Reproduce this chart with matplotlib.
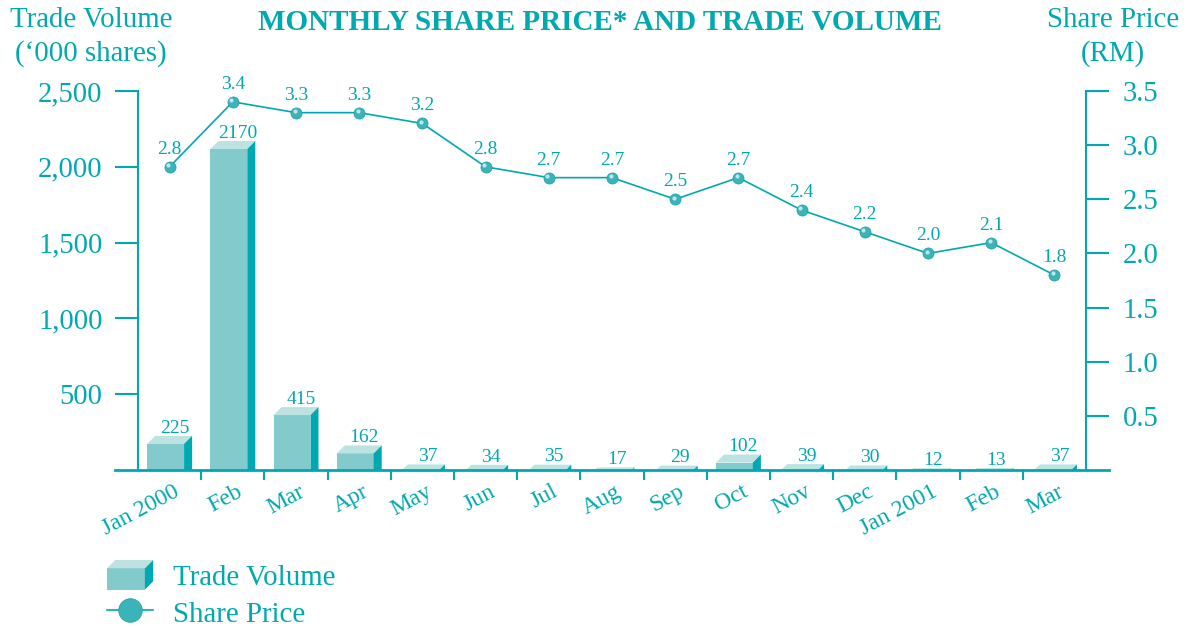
import matplotlib
matplotlib.use("Agg")
import matplotlib.pyplot as plt
import numpy as np
from matplotlib.patches import Polygon, Rectangle
from matplotlib.lines import Line2D
from matplotlib.legend_handler import HandlerBase
from matplotlib.transforms import ScaledTranslation, offset_copy

months = ["Jan 2000", "Feb", "Mar", "Apr", "May", "Jun", "Jul", "Aug",
          "Sep", "Oct", "Nov", "Dec", "Jan 2001", "Feb", "Mar"]
volume = [225, 2170, 415, 162, 37, 34, 35, 17, 29, 102, 39, 30, 12, 13, 37]
price = [2.8, 3.4, 3.3, 3.3, 3.2, 2.8, 2.7, 2.7, 2.5, 2.7, 2.4, 2.2, 2.0, 2.1, 1.8]
vol_ticks = [500, 1000, 1500, 2000, 2500]
price_ticks = [0.5, 1.0, 1.5, 2.0, 2.5, 3.0, 3.5]

TEAL = "#00a8af"
FRONT = "#82cacc"
SIDE = "#00a9b1"
TOP = "#bce2e2"
BALL = "#3ab3b9"

plt.rcParams["font.family"] = ["Liberation Serif", "DejaVu Serif"]

W, H = 1198, 627
fig = plt.figure(figsize=(W / 100, H / 100), dpi=100)
ax = fig.add_axes((138 / W, 1 - 470 / H, 948 / W, 379 / H))
ax2 = ax.twinx()

x = np.arange(len(months))
w = 0.585    # front face width
dx = 0.127   # depth, x direction
dy = 53      # depth, in volume units

# 3D-ish bars: the value is the back edge of the top face
left = x - (w + dx) / 2
front_h = np.array(volume) - dy
ax.bar(left, np.clip(front_h, 0, None), width=w, align="edge", color=FRONT,
       lw=0, zorder=2)
for l, v, f in zip(left, volume, front_h):
    r = l + w
    ax.add_patch(Polygon([(l, f), (r, f), (r + dx, v), (l + dx, v)],
                         closed=True, fc=TOP, lw=0, zorder=2))
    ax.add_patch(Polygon([(r, 0), (r, f), (r + dx, v), (r + dx, 0)],
                         closed=True, fc=SIDE, lw=0, zorder=2))
    ax.text(l + (w + dx) / 2 + 0.08, v - 5, f"{v}", ha="center", va="bottom",
            color=TEAL, fontsize=14)

ax.set_xlim(-0.5, len(months) - 0.5)
ax.set_ylim(0, 2500)
ax2.set_ylim(0, 3.5)

# price line with "spheres"
ax2.plot(x, price, color=TEAL, lw=1.2, marker="o", ms=8, mfc=BALL,
         mec="#1c9ea5", mew=0.5, zorder=3)
hl = offset_copy(ax2.transData, fig=fig, x=-1.0, y=1.2, units="points")
ax2.plot(x, price, ls="none", marker="o", ms=3, mfc="#dff3f4", mec="none",
         alpha=0.8, transform=hl, zorder=4)
for i, p in zip(x, price):
    ax2.annotate(f"{p:.1f}", (i, p), xytext=(0, 6.5), textcoords="offset points",
                 ha="center", va="bottom", fontsize=14, color=TEAL)

# spines
for s in ["top", "right", "bottom"]:
    ax.spines[s].set_visible(False)
for s in ["top", "left", "bottom"]:
    ax2.spines[s].set_visible(False)
ax.spines["left"].set_color(TEAL)
ax.spines["left"].set_linewidth(1.5)
ax2.spines["right"].set_color(TEAL)
ax2.spines["right"].set_linewidth(1.5)
ax.plot([-0.0243, 1.0243], [0, 0], transform=ax.transAxes, clip_on=False,
        color=TEAL, lw=2, zorder=5)

ax.set_yticks(vol_ticks, [f"{v:,}" for v in vol_ticks])
ax.tick_params(axis="y", length=16.5, width=1.5, color=TEAL, labelcolor=TEAL,
               labelsize=20.6, pad=9)
ax2.set_yticks(price_ticks, [f"{v:.1f}" for v in price_ticks])
ax2.tick_params(axis="y", length=16.5, width=1.5, color=TEAL, labelcolor=TEAL,
                labelsize=20.6, pad=10)

ax.set_xticks(x, months, rotation=28, ha="right", rotation_mode="anchor")
ax.set_xticks(x[:-1] + 0.5, minor=True)
ax.tick_params(axis="x", which="major", length=0, labelcolor=TEAL,
               labelsize=17, pad=8)
ax.tick_params(axis="x", which="minor", length=7, width=1.5, color=TEAL)
shift = ScaledTranslation(3 / 100, 0, fig.dpi_scale_trans)
for lbl in ax.get_xticklabels():
    lbl.set_transform(lbl.get_transform() + shift)

# titles
fig.text(600 / W, 1 - 23 / H, "MONTHLY SHARE PRICE* AND TRADE VOLUME",
         ha="center", va="center", fontsize=21, fontweight="bold", color=TEAL)
fig.text(91 / W, 1 - 37 / H, "Trade Volume\n(\u2018000 shares)", ha="center",
         va="center", multialignment="center", fontsize=20.8, color=TEAL,
         linespacing=1.3)
fig.text(1113 / W, 1 - 37 / H, "Share Price\n(RM)", ha="center", va="center",
         multialignment="center", fontsize=20.8, color=TEAL, linespacing=1.3)


# legend with a small 3D box handle
class Box3D:
    pass


class Box3DHandler(HandlerBase):
    def create_artists(self, legend, orig_handle, xdescent, ydescent, width,
                       height, fontsize, trans):
        d = 0.18 * width
        x0, y0 = -xdescent, -ydescent
        fw, fh = width - d, height - d
        front = Rectangle((x0, y0), fw, fh, fc=FRONT, lw=0, transform=trans)
        top = Polygon([(x0, y0 + fh), (x0 + fw, y0 + fh), (x0 + width, y0 + height),
                       (x0 + d, y0 + height)], closed=True, fc=TOP, lw=0,
                      transform=trans)
        side = Polygon([(x0 + fw, y0), (x0 + fw, y0 + fh), (x0 + width, y0 + height),
                        (x0 + width, y0 + d)], closed=True, fc=SIDE, lw=0,
                       transform=trans)
        return [front, top, side]


price_handle = Line2D([], [], color=TEAL, lw=1.2, marker="o", ms=17, mfc=BALL,
                      mec="#1c9ea5", mew=0.5)
fig.legend([Box3D(), price_handle], ["Trade Volume", "Share Price"],
           loc="upper left", bbox_to_anchor=(107 / W, 1 - 560 / H),
           frameon=False, borderpad=0, borderaxespad=0, handlelength=1.6,
           handleheight=1.2, handletextpad=0.7, labelspacing=0.25,
           fontsize=20.8, labelcolor=TEAL, numpoints=1,
           handler_map={Box3D: Box3DHandler()})

fig.savefig("out.png", dpi=100)
